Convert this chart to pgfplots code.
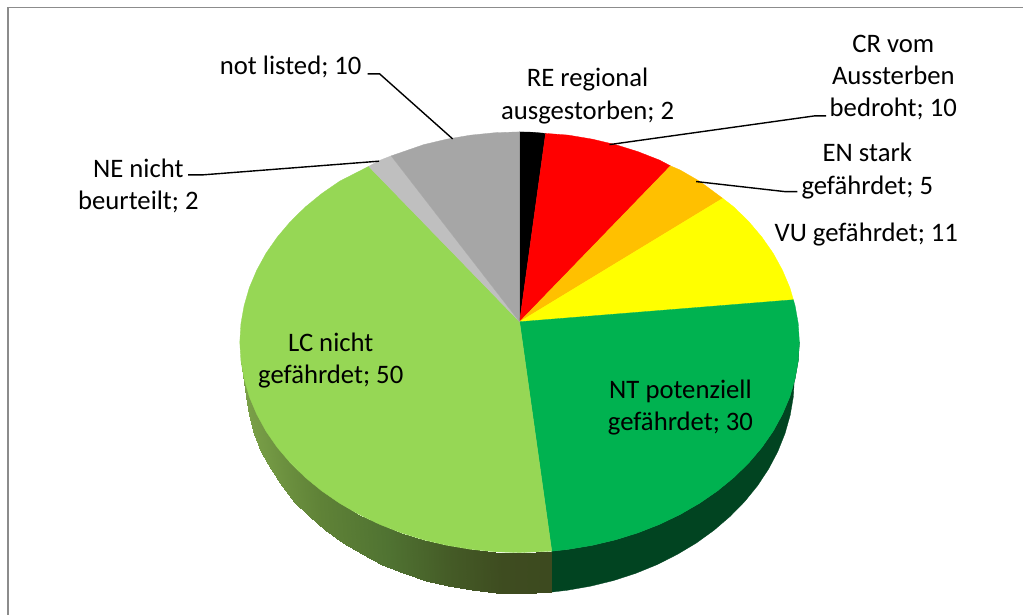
\documentclass[border=0pt]{standalone}
\usepackage{pgfplots}
\pgfplotsset{compat=1.18}
\usepackage{fontspec}
\setmainfont{Carlito}
\definecolor{cRE}{RGB}{0,0,0}
\definecolor{cCR}{RGB}{255,0,0}
\definecolor{cEN}{RGB}{255,192,0}
\definecolor{cVU}{RGB}{255,255,0}
\definecolor{cNT}{RGB}{0,178,80}
\definecolor{cLC}{RGB}{150,215,85}
\definecolor{cNE}{RGB}{191,191,191}
\definecolor{cNL}{RGB}{166,166,166}
\definecolor{cSide}{RGB}{1,68,33}
\definecolor{cFrame}{RGB}{140,140,140}
\tikzset{
  lab/.style={font=\fontsize{26.8}{32.5}\selectfont, align=center, text=black, inner sep=0pt},
  lead/.style={black, line width=1.4bp},
  sl/.style={draw=#1, fill=#1, line width=0.3pt},
}
\begin{document}
\begin{tikzpicture}
\begin{axis}[
  scale only axis, width=1024bp, height=615bp,
  xmin=0, xmax=1024, ymin=0, ymax=615, y dir=reverse,
  hide axis, clip=false, no markers,
  colormap={side}{[1pt] rgb255(0pt)=(122,160,72) rgb255(75pt)=(95,130,55) rgb255(142pt)=(80,115,50) rgb255(208pt)=(68,90,38) rgb255(258pt)=(62,76,32) rgb255(307pt)=(61,74,31)},
  point meta min=245, point meta max=552,
]
% page area
\addplot[fill=white, draw=none] coordinates {(0,0) (1024,0) (1024,615) (0,615)} -- cycle;
% frame
\addplot[cFrame, line width=1.6bp] coordinates {(8,615) (8,7.5) (1024,7.5)};

% side, right part (NT)
\addplot[sl=cSide] coordinates {
 (552.2,551.6) (568.6,549.8) (592.5,545.8) (615.8,540.3) (638.3,533.3) (660,524.8) (680.6,514.9) (700,503.7) (718,491.3) (734.5,477.8) (749.4,463.2) (762.5,447.8) (773.8,431.5) (783.1,414.5) (790.5,397) (795.7,379) (798.9,360.9) (800,342.5)
 (795,378) (794,396.8) (790.8,415.5) (785.6,433.9) (778.4,451.9) (769.2,469.3) (758.2,486) (745.3,501.9) (730.7,516.8) (714.5,530.7) (696.8,543.5) (677.7,554.9) (657.5,565.1) (636.2,573.8) (614,581) (591.2,586.6) (567.8,590.7) (551.6,592.6)} -- cycle;

% side, left part (LC) with shading
\addplot[surf, mesh/rows=2, shader=interp, point meta=explicit]
 table[x=x, y=y, meta=m] {
x y m
552.2 551.6 552
520 553 520
495.6 552.2 496
471.4 549.8 471
447.5 545.8 448
424.2 540.3 424
401.7 533.3 402
380 524.8 380
359.4 514.9 359
340 503.7 340
322 491.3 322
305.5 477.8 306
290.6 463.2 291
277.5 447.8 278
266.2 431.5 266
256.9 414.5 257
249.5 397 250
244.3 379 245
241.1 360.9 245
551.6 592.6 552
520 594 520
496 593.2 496
472.3 590.7 471
448.8 586.6 448
426 581 424
403.8 573.8 402
382.5 565.1 380
362.3 554.9 359
343.2 543.5 340
325.5 530.7 322
309.3 516.8 306
294.7 501.9 291
281.9 486 278
270.8 469.3 266
261.6 451.9 257
254.4 433.9 250
249.2 415.5 245
246 396.8 245
};

% top face: slices
\addplot[sl=cRE] coordinates {(520,322) (520,132) (533,132.3) (546,133.5)} -- cycle;
\addplot[sl=cCR] coordinates {(520,322) (546,133.5) (568.6,135.2) (592.5,139.2) (615.8,144.7) (638.3,151.7) (660,160.2) (671,166)} -- cycle;
\addplot[sl=cEN] coordinates {(520,322) (671,166) (680.6,170.1) (700,181.3) (723.3,198.5)} -- cycle;
\addplot[sl=cVU] coordinates {(520,322) (723.3,198.5) (734.5,207.2) (749.4,221.8) (762.5,237.3) (773.8,253.5) (783.1,270.5) (790.5,288) (794,300)} -- cycle;
\addplot[sl=cNT] coordinates {(520,322) (794,300) (795.7,306) (798.9,324) (800,342.5) (798.9,361) (795.7,379) (790.5,397) (783.1,414.5) (773.8,431.5) (762.5,447.8) (749.4,463.2) (734.5,477.8) (718,491.3) (700,503.7) (680.6,514.9) (660,524.8) (638.3,533.3) (615.8,540.3) (592.5,545.8) (568.6,549.8) (552.2,551.6)} -- cycle;
\addplot[sl=cLC] coordinates {(520,322) (552.2,551.6) (520,553) (495.6,552.2) (471.4,549.8) (447.5,545.8) (424.2,540.3) (401.7,533.3) (380,524.8) (359.4,514.9) (340,503.7) (322,491.3) (305.5,477.8) (290.6,463.2) (277.5,447.8) (266.2,431.5) (256.9,414.5) (249.5,397) (244.3,379) (241.1,361) (240,342.5) (241.1,324) (244.3,306) (249.5,288) (256.9,270.5) (266.2,253.5) (277.5,237.3) (290.6,221.8) (305.5,207.2) (322,193.7) (340,181.3) (369,166.5)} -- cycle;
\addplot[sl=cNE] coordinates {(520,322) (369,166.5) (380,160.5) (391.5,156)} -- cycle;
\addplot[sl=cNL] coordinates {(520,322) (391.5,156) (424.2,144.7) (447.5,139.2) (471.4,135.2) (495.6,132.8) (520,132)} -- cycle;

% leader lines
\addplot[lead] coordinates {(368,74) (380,74) (453,139)};
\addplot[lead] coordinates {(826.7,116) (815,116) (610,144.7)};
\addplot[lead] coordinates {(798,191.7) (785,191.7) (696.7,181.7)};
\addplot[lead] coordinates {(188.3,175) (203,175) (379.3,161.3)};

% labels
\node[lab, anchor=east] at (axis cs:362,67) {not listed; 10};
\node[lab] at (axis cs:588,96) {RE regional\\ausgestorben; 2};
\node[lab] at (axis cs:894,77.5) {CR vom\\Aussterben\\bedroht; 10};
\node[lab] at (axis cs:868,171) {EN stark\\gefährdet; 5};
\node[lab] at (axis cs:867,235) {VU gefährdet; 11};
\node[lab] at (axis cs:138.5,186) {NE nicht\\beurteilt; 2};
\node[lab] at (axis cs:331,361) {LC nicht\\gefährdet; 50};
\node[lab] at (axis cs:681,408) {NT potenziell\\gefährdet; 30};
\end{axis}
\end{tikzpicture}
\end{document}
